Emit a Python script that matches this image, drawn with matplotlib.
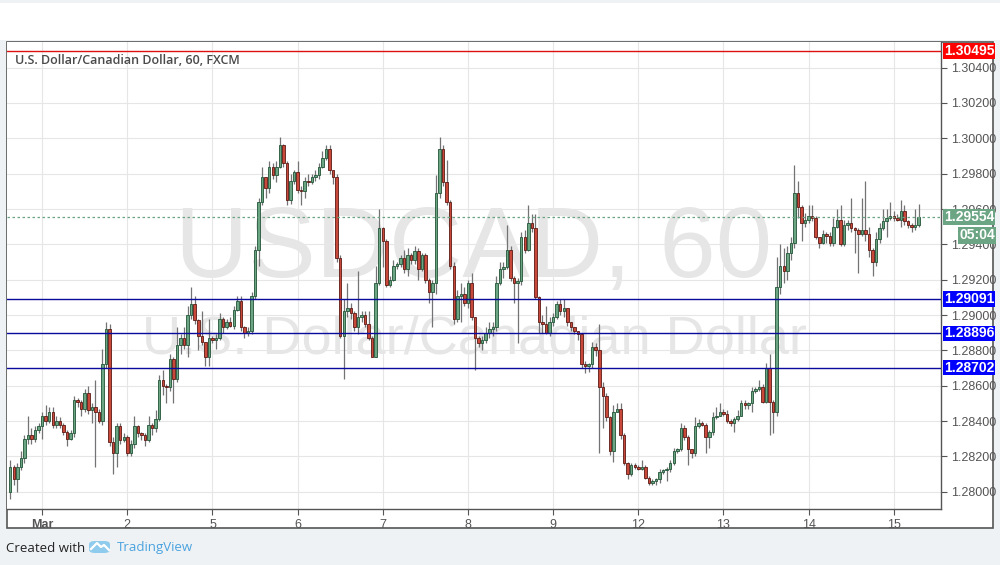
import numpy as np
import matplotlib
matplotlib.use("Agg")
import matplotlib.pyplot as plt
from matplotlib.patches import Rectangle, FancyBboxPatch
from matplotlib.lines import Line2D

# USD/CAD hourly candles, Feb 28 (late) .. Mar 15
first_open = 1.2800
closes = [
    # Feb 28 (tail)
    1.2814, 1.2807, 1.2814, 1.2819, 1.2830, 1.2832, 1.2830, 1.2835, 1.2837,
    # Mar 1
    1.2843, 1.2840, 1.2845, 1.2838, 1.2840, 1.2838, 1.2834, 1.2830, 1.2833, 1.2852, 1.2851, 1.2847,
    1.2856, 1.2846, 1.2848, 1.2845, 1.2840, 1.2872, 1.2892, 1.2828, 1.2822, 1.2837, 1.2829, 1.2831,
    # Mar 2
    1.2822, 1.2827, 1.2837, 1.2833, 1.2832, 1.2829, 1.2838, 1.2836, 1.2841, 1.2863, 1.2860, 1.2859,
    1.2875, 1.2864, 1.2883, 1.2887, 1.2883, 1.2900, 1.2906, 1.2897, 1.2888, 1.2885, 1.2876, 1.2887,
    # Mar 5
    1.2886, 1.2887, 1.2898, 1.2893, 1.2896, 1.2894, 1.2903, 1.2908, 1.2893, 1.2890, 1.2891, 1.2911,
    1.2937, 1.2964, 1.2978, 1.2972, 1.2984, 1.2979, 1.2984, 1.2996, 1.2986, 1.2965, 1.2976, 1.2981,
    # Mar 6
    1.2971, 1.2970, 1.2976, 1.2975, 1.2978, 1.2979, 1.2984, 1.2989, 1.2994, 1.2982, 1.2978, 1.2932,
    1.2888, 1.2902, 1.2904, 1.2901, 1.2893, 1.2899, 1.2900, 1.2895, 1.2887, 1.2876, 1.2918, 1.2949,
    # Mar 7
    1.2942, 1.2917, 1.2920, 1.2928, 1.2929, 1.2932, 1.2926, 1.2934, 1.2931, 1.2936, 1.2926, 1.2934,
    1.2920, 1.2913, 1.2918, 1.2969, 1.2994, 1.2975, 1.2964, 1.2928, 1.2898, 1.2911, 1.2912, 1.2907,
    # Mar 8
    1.2918, 1.2899, 1.2887, 1.2884, 1.2886, 1.2890, 1.2892, 1.2893, 1.2918, 1.2926, 1.2927, 1.2937,
    1.2921, 1.2918, 1.2919, 1.2944, 1.2937, 1.2952, 1.2949, 1.2910, 1.2896, 1.2895, 1.2890, 1.2896,
    # Mar 9
    1.2899, 1.2906, 1.2902, 1.2904, 1.2896, 1.2893, 1.2891, 1.2889, 1.2872, 1.2871, 1.2872, 1.2882,
    1.2880, 1.2859, 1.2854, 1.2842, 1.2823, 1.2845, 1.2847, 1.2832, 1.2816, 1.2810, 1.2815, 1.2814,
    # Mar 12
    1.2813, 1.2814, 1.2808, 1.2805, 1.2806, 1.2807, 1.2811, 1.2812, 1.2813, 1.2816, 1.2823, 1.2824,
    1.2836, 1.2831, 1.2824, 1.2822, 1.2837, 1.2839, 1.2838, 1.2831, 1.2834, 1.2842, 1.2843, 1.2845,
    # Mar 13
    1.2844, 1.2840, 1.2839, 1.2841, 1.2843, 1.2850, 1.2849, 1.2850, 1.2857, 1.2858, 1.2859, 1.2851,
    1.2870, 1.2851, 1.2845, 1.2916, 1.2928, 1.2925, 1.2935, 1.2941, 1.2969, 1.2961, 1.2952, 1.2954,
    # Mar 14
    1.2956, 1.2955, 1.2944, 1.2941, 1.2946, 1.2945, 1.2941, 1.2950, 1.2954, 1.2940, 1.2951, 1.2952,
    1.2949, 1.2948, 1.2946, 1.2948, 1.2946, 1.2937, 1.2930, 1.2943, 1.2949, 1.2953, 1.2955, 1.2956,
    # Mar 15
    1.2955, 1.2954, 1.2959, 1.2953, 1.2951, 1.2950, 1.2951, 1.29554,
]

highs = [
    1.2818, 1.2815, 1.2816, 1.2823, 1.2832, 1.2843, 1.2836, 1.2837, 1.2839,
    1.2845, 1.2849, 1.2848, 1.2848, 1.2843, 1.2842, 1.2839, 1.2835, 1.2835, 1.2854, 1.2853, 1.2852,
    1.2858, 1.2860, 1.2850, 1.2863, 1.2847, 1.2881, 1.2896, 1.2895, 1.2831, 1.2839, 1.2839, 1.2833,
    1.2832, 1.2829, 1.2843, 1.2838, 1.2834, 1.2833, 1.2843, 1.2839, 1.2846, 1.2866, 1.2869, 1.2861,
    1.2878, 1.2876, 1.2893, 1.2889, 1.2893, 1.2905, 1.2916, 1.2911, 1.2898, 1.2902, 1.2884, 1.2898,
    1.2888, 1.2889, 1.2901, 1.2899, 1.2898, 1.2899, 1.2905, 1.2911, 1.2911, 1.2894, 1.2893, 1.2913,
    1.2939, 1.2966, 1.2984, 1.2978, 1.2987, 1.2986, 1.2987, 1.3001, 1.2997, 1.2987, 1.2980, 1.2982,
    1.2987, 1.2973, 1.2978, 1.2980, 1.2980, 1.2982, 1.2986, 1.2993, 1.2996, 1.2996, 1.2982, 1.2980,
    1.2934, 1.2909, 1.2918, 1.2907, 1.2902, 1.2925, 1.2902, 1.2902, 1.2902, 1.2888, 1.2928, 1.2960,
    1.2950, 1.2943, 1.2922, 1.2931, 1.2930, 1.2934, 1.2937, 1.2938, 1.2935, 1.2939, 1.2938, 1.2935,
    1.2935, 1.2921, 1.2920, 1.2979, 1.3001, 1.2996, 1.2988, 1.2965, 1.2930, 1.2914, 1.2918, 1.2916,
    1.2920, 1.2924, 1.2899, 1.2888, 1.2888, 1.2893, 1.2896, 1.2896, 1.2922, 1.2930, 1.2930, 1.2951,
    1.2939, 1.2922, 1.2921, 1.2947, 1.2948, 1.2962, 1.2957, 1.2957, 1.2911, 1.2900, 1.2905, 1.2899,
    1.2901, 1.2908, 1.2909, 1.2909, 1.2904, 1.2896, 1.2893, 1.2891, 1.2890, 1.2874, 1.2873, 1.2885,
    1.2884, 1.2895, 1.2862, 1.2856, 1.2843, 1.2849, 1.2850, 1.2850, 1.2833, 1.2817, 1.2816, 1.2816,
    1.2815, 1.2818, 1.2815, 1.2809, 1.2807, 1.2808, 1.2813, 1.2813, 1.2814, 1.2818, 1.2825, 1.2825,
    1.2839, 1.2838, 1.2832, 1.2824, 1.2842, 1.2841, 1.2840, 1.2839, 1.2835, 1.2845, 1.2848, 1.2850,
    1.2847, 1.2846, 1.2841, 1.2842, 1.2846, 1.2852, 1.2852, 1.2851, 1.2859, 1.2859, 1.2863, 1.2861,
    1.2873, 1.2878, 1.2852, 1.2933, 1.2940, 1.2938, 1.2939, 1.2944, 1.2985, 1.2976, 1.2962, 1.2958,
    1.2962, 1.2962, 1.2956, 1.2944, 1.2948, 1.2947, 1.2947, 1.2955, 1.2960, 1.2962, 1.2954, 1.2954,
    1.2966, 1.2950, 1.2949, 1.2966, 1.2976, 1.2950, 1.2938, 1.2947, 1.2952, 1.2960, 1.2960, 1.2964,
    1.2959, 1.2957, 1.2965, 1.2962, 1.2954, 1.2952, 1.2960, 1.2963,
]

lows = [
    1.2796, 1.2804, 1.2800, 1.2812, 1.2816, 1.2827, 1.2827, 1.2828, 1.2833,
    1.2830, 1.2838, 1.2839, 1.2836, 1.2836, 1.2836, 1.2832, 1.2826, 1.2829, 1.2831, 1.2848, 1.2843,
    1.2845, 1.2844, 1.2839, 1.2814, 1.2839, 1.2838, 1.2870, 1.2826, 1.2810, 1.2814, 1.2827, 1.2828,
    1.2820, 1.2820, 1.2825, 1.2831, 1.2829, 1.2826, 1.2828, 1.2832, 1.2834, 1.2840, 1.2855, 1.2850,
    1.2857, 1.2850, 1.2862, 1.2878, 1.2881, 1.2876, 1.2898, 1.2895, 1.2880, 1.2883, 1.2871, 1.2871,
    1.2884, 1.2881, 1.2886, 1.2890, 1.2892, 1.2893, 1.2892, 1.2902, 1.2891, 1.2887, 1.2888, 1.2889,
    1.2909, 1.2928, 1.2962, 1.2966, 1.2969, 1.2977, 1.2975, 1.2983, 1.2984, 1.2962, 1.2963, 1.2974,
    1.2969, 1.2962, 1.2966, 1.2973, 1.2974, 1.2976, 1.2977, 1.2983, 1.2988, 1.2980, 1.2974, 1.2930,
    1.2887, 1.2864, 1.2899, 1.2898, 1.2891, 1.2889, 1.2896, 1.2893, 1.2886, 1.2876, 1.2876, 1.2917,
    1.2927, 1.2916, 1.2916, 1.2919, 1.2926, 1.2927, 1.2924, 1.2922, 1.2929, 1.2929, 1.2920, 1.2925,
    1.2918, 1.2907, 1.2893, 1.2912, 1.2966, 1.2973, 1.2962, 1.2926, 1.2895, 1.2896, 1.2896, 1.2905,
    1.2904, 1.2897, 1.2869, 1.2882, 1.2880, 1.2884, 1.2887, 1.2888, 1.2891, 1.2917, 1.2921, 1.2926,
    1.2919, 1.2907, 1.2884, 1.2917, 1.2935, 1.2936, 1.2947, 1.2909, 1.2890, 1.2890, 1.2889, 1.2888,
    1.2894, 1.2898, 1.2900, 1.2899, 1.2894, 1.2891, 1.2889, 1.2886, 1.2870, 1.2867, 1.2868, 1.2870,
    1.2877, 1.2822, 1.2836, 1.2840, 1.2821, 1.2817, 1.2845, 1.2830, 1.2815, 1.2807, 1.2809, 1.2813,
    1.2812, 1.2812, 1.2807, 1.2804, 1.2804, 1.2804, 1.2805, 1.2810, 1.2806, 1.2811, 1.2815, 1.2822,
    1.2823, 1.2829, 1.2815, 1.2819, 1.2820, 1.2836, 1.2837, 1.2822, 1.2825, 1.2832, 1.2841, 1.2843,
    1.2843, 1.2839, 1.2837, 1.2834, 1.2840, 1.2843, 1.2847, 1.2847, 1.2845, 1.2856, 1.2857, 1.2850,
    1.2850, 1.2832, 1.2833, 1.2843, 1.2912, 1.2918, 1.2920, 1.2931, 1.2938, 1.2955, 1.2942, 1.2950,
    1.2952, 1.2953, 1.2943, 1.2938, 1.2940, 1.2941, 1.2939, 1.2939, 1.2949, 1.2939, 1.2939, 1.2948,
    1.2947, 1.2935, 1.2924, 1.2945, 1.2942, 1.2933, 1.2922, 1.2928, 1.2941, 1.2948, 1.2944, 1.2954,
    1.2953, 1.2953, 1.2950, 1.2951, 1.2949, 1.2947, 1.2948, 1.2950,
]

# first candle of each labelled day, hourly bars
day_labels = ['Mar', '2', '5', '6', '7', '8', '9', '12', '13', '14', '15']
first_day_bar = 9
bars_per_day = 24

# drawn horizontal levels
resistance = 1.30495
levels = [1.29091, 1.28896, 1.28702]
last_price = 1.29554
countdown = '05:04'

UP, UP_EDGE = '#6ba583', '#225437'
DOWN, DOWN_EDGE = '#c8493a', '#5b1a13'
WICK = '#737375'
AXIS = '#555555'

assert len(closes) == len(highs) == len(lows), (len(closes), len(highs), len(lows))

c = np.array(closes)
o = np.concatenate([[first_open], c[:-1]])
h = np.maximum(np.array(highs), np.maximum(o, c))
l = np.minimum(np.array(lows), np.minimum(o, c))
x = np.arange(len(c))

fig = plt.figure(figsize=(10, 5.65), dpi=100, facecolor='#eff2f5')
fig.patches.append(Rectangle((0, 0.929), 1, 0.066, transform=fig.transFigure,
                             facecolor='white', edgecolor='none', zorder=-2))
fig.patches.append(Rectangle((0.007, 0.0655), 0.986, 0.860, transform=fig.transFigure,
                             facecolor='white', edgecolor=AXIS, lw=1.2, zorder=-1))

ax = fig.add_axes([0.007, 0.0991, 0.934, 0.8265])
ax.set_facecolor('white')
ax.set_xlim(-0.9, 262.3)
ax.set_ylim(1.27902, 1.30545)

# watermark
ax.text(0.5, 0.497, 'USDCAD, 60', transform=ax.transAxes, ha='center', va='baseline',
        fontsize=73, color='#e6e6e6', family='Liberation Sans', zorder=0.6)
ax.text(0.5, 0.334, 'U.S. Dollar/Canadian Dollar', transform=ax.transAxes, ha='center',
        va='baseline', fontsize=39, color='#e6e6e6', family='Liberation Sans', zorder=0.6)

# candles
up = c >= o
bottom = np.minimum(o, c)
height = np.maximum(np.abs(c - o), 0.00003)
ax.vlines(x, l, h, color=WICK, lw=0.9, zorder=2)
ax.bar(x[up], height[up], bottom=bottom[up], width=0.7, color=UP,
       edgecolor=UP_EDGE, linewidth=0.6, zorder=3)
ax.bar(x[~up], height[~up], bottom=bottom[~up], width=0.7, color=DOWN,
       edgecolor=DOWN_EDGE, linewidth=0.6, zorder=3)

# levels and price tags
tag_kw = dict(xycoords=ax.get_yaxis_transform(), textcoords='offset pixels',
              ha='left', va='center', fontsize=10, fontweight='bold', color='white',
              family='Liberation Sans', annotation_clip=False, zorder=6)
ax.axhline(resistance, color='#e01010', lw=1.0, zorder=4)
ax.annotate(f'{resistance:.5f}', xy=(1, resistance), xytext=(3, 0),
            bbox=dict(boxstyle='square,pad=0.06', fc='#ff0000', ec='none'), **tag_kw)
for lv in levels:
    ax.axhline(lv, color='#0a0a9c', lw=1.0, zorder=4)
    ax.annotate(f'{lv:.5f}', xy=(1, lv), xytext=(3, 0),
                bbox=dict(boxstyle='square,pad=0.06', fc='#0000ff', ec='none'), **tag_kw)
ax.axhline(last_price, color=UP, lw=0.9, ls=(0, (2, 2)), zorder=4)
ax.annotate(f'{last_price:.5f}', xy=(1, last_price), xytext=(3, 0),
            bbox=dict(boxstyle='square,pad=0.06', fc=UP, ec='none'), **tag_kw)
ax.annotate(countdown, xy=(1, last_price), xytext=(18, -18),
            bbox=dict(boxstyle='square,pad=0.1', fc=UP, ec='none'), **tag_kw)

# axes styling
ax.yaxis.tick_right()
ax.set_yticks(np.arange(1.280, 1.3041, 0.002))
ax.set_yticklabels([f'{v:.5f}' for v in np.arange(1.280, 1.3041, 0.002)])
ax.set_xticks(first_day_bar + bars_per_day * np.arange(len(day_labels)))
ax.set_xticklabels(day_labels)
ax.get_xticklabels()[0].set_fontweight('bold')
ax.tick_params(axis='both', direction='out', length=4, color=AXIS, labelcolor=AXIS,
               labelsize=9, width=0.8)
ax.tick_params(axis='y', pad=3)
ax.tick_params(axis='x', pad=3)
for lab in ax.get_xticklabels() + ax.get_yticklabels():
    lab.set_family('Liberation Sans')
ax.grid(True, color='#e6e6e6', lw=0.8)
ax.set_axisbelow(True)
for side in ['top', 'left']:
    ax.spines[side].set_visible(False)
for side in ['right', 'bottom']:
    ax.spines[side].set_color(AXIS)
    ax.spines[side].set_linewidth(1.0)

ax.text(8 / 934, 1 - 18 / 467, 'U.S. Dollar/Canadian Dollar, 60, FXCM', transform=ax.transAxes,
        ha='left', va='center', fontsize=9, color='#4a4a4a', fontweight='semibold',
        family='Open Sans', zorder=5)

# footer
fig.text(0.006, 1 - 548 / 565, 'Created with', ha='left', va='center', fontsize=9.5,
         color='#222222', family='Open Sans')
fig.patches.append(FancyBboxPatch((0.089, 1 - 553 / 565), 0.021, 12 / 565,
                                  boxstyle='round,pad=0,rounding_size=0.006',
                                  transform=fig.transFigure, fc='#8fcbec', ec='none'))
fig.lines.append(Line2D([0.091, 0.097, 0.101, 0.104, 0.109],
                        [1 - 549 / 565, 1 - 543 / 565, 1 - 547 / 565, 1 - 545 / 565, 1 - 550 / 565],
                        transform=fig.transFigure, color='white', lw=1.6))
fig.text(0.117, 1 - 548 / 565, 'TradingView', ha='left', va='center', fontsize=9.5,
         color='#4aa3df', family='Open Sans')

fig.savefig('out.png', dpi=100, facecolor=fig.get_facecolor())
